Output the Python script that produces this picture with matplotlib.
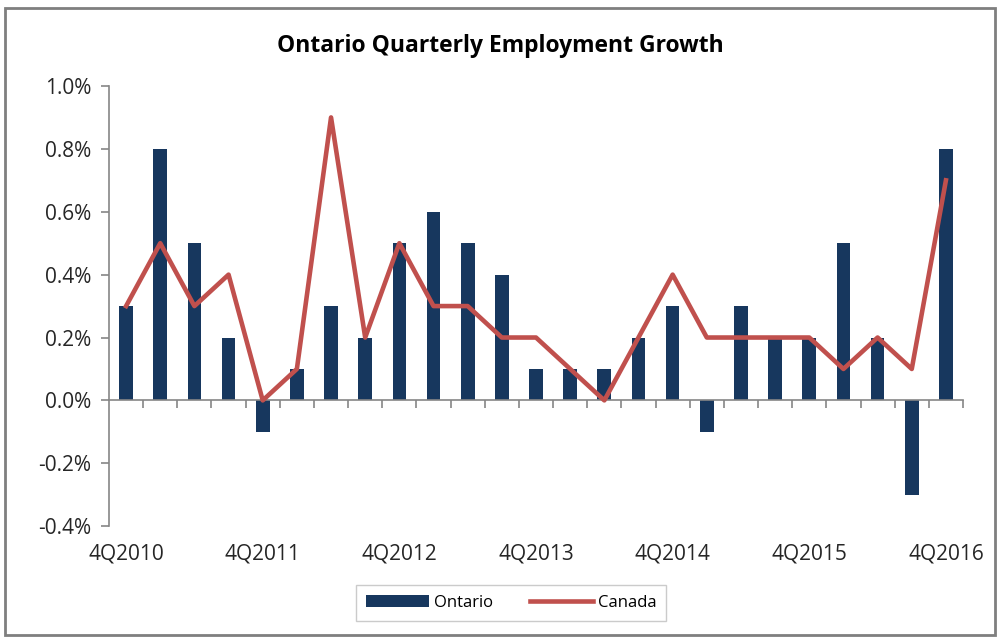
"""
Ontario vs Canada quarterly employment growth (bars + line)
"""

import numpy as np
from matplotlib import pyplot as plt
from matplotlib.patches import Rectangle

# Data
quarters = ["4Q2010", "1Q2011", "2Q2011", "3Q2011",
            "4Q2011", "1Q2012", "2Q2012", "3Q2012",
            "4Q2012", "1Q2013", "2Q2013", "3Q2013",
            "4Q2013", "1Q2014", "2Q2014", "3Q2014",
            "4Q2014", "1Q2015", "2Q2015", "3Q2015",
            "4Q2015", "1Q2016", "2Q2016", "3Q2016",
            "4Q2016"]
ontario = [0.3, 0.8, 0.5, 0.2, -0.1, 0.1, 0.3, 0.2, 0.5, 0.6, 0.5, 0.4, 0.1,
           0.1, 0.1, 0.2, 0.3, -0.1, 0.3, 0.2, 0.2, 0.5, 0.2, -0.3, 0.8]
canada = [0.3, 0.5, 0.3, 0.4, 0.0, 0.1, 0.9, 0.2, 0.5, 0.3, 0.3, 0.2, 0.2,
          0.1, 0.0, 0.2, 0.4, 0.2, 0.2, 0.2, 0.2, 0.1, 0.2, 0.1, 0.7]
yticks = [-0.4, -0.2, 0.0, 0.2, 0.4, 0.6, 0.8, 1.0]

plt.rcParams["font.family"] = ["Open Sans", "DejaVu Sans"]
grey = "#868686"

fig = plt.figure(figsize=(10, 6.37), dpi=100)
ax = fig.add_axes([0.109, 0.174, 0.854, 0.691])

x = np.arange(len(quarters))
bars = ax.bar(x, ontario, width=0.4, color="#17375E", label="Ontario", zorder=2)
line, = ax.plot(x, canada, color="#C0504D", linewidth=3.3, label="Canada", zorder=3)

ax.set_xlim(-0.5, len(quarters) - 0.5)
ax.set_ylim(-0.4, 1.0)

# Axes styling
ax.spines["top"].set_visible(False)
ax.spines["right"].set_visible(False)
ax.spines["bottom"].set_position(("data", 0))
for s in ("left", "bottom"):
    ax.spines[s].set_color(grey)
    ax.spines[s].set_linewidth(1.2)

ax.set_yticks(yticks)
ax.set_yticklabels([f"{v:.1f}%" for v in yticks], fontsize=15, color="#262626")
ax.set_xticks(np.arange(0.5, len(quarters), 1.0))
ax.set_xticklabels([])
ax.tick_params(axis="both", direction="out", color=grey, length=6, width=1.2)
ax.tick_params(axis="y", pad=7)

# Category labels at the bottom, every 4th quarter
for i in range(0, len(quarters), 4):
    ax.text(i, -0.04, quarters[i], transform=ax.get_xaxis_transform(),
            ha="center", va="top", fontsize=15, color="#262626")

fig.suptitle("Ontario Quarterly Employment Growth", y=0.947,
             fontsize=16.5, fontweight="bold")

leg = ax.legend([bars, line], ["Ontario", "Canada"], loc="center",
                bbox_to_anchor=(0.511, 1 - 603 / 637),
                bbox_transform=fig.transFigure, ncol=2, fontsize=12,
                fancybox=False, edgecolor="#BFBFBF", handlelength=3.8,
                columnspacing=2.2, borderpad=0.6, handletextpad=0.3)
leg.get_frame().set_linewidth(1.0)

# Outer chart border
fig.patches.append(Rectangle((0.005, 0.003), 0.99, 0.985, transform=fig.transFigure,
                             fill=False, edgecolor="#7F7F7F", linewidth=2))

plt.savefig("out.png", dpi=100)
plt.close()
